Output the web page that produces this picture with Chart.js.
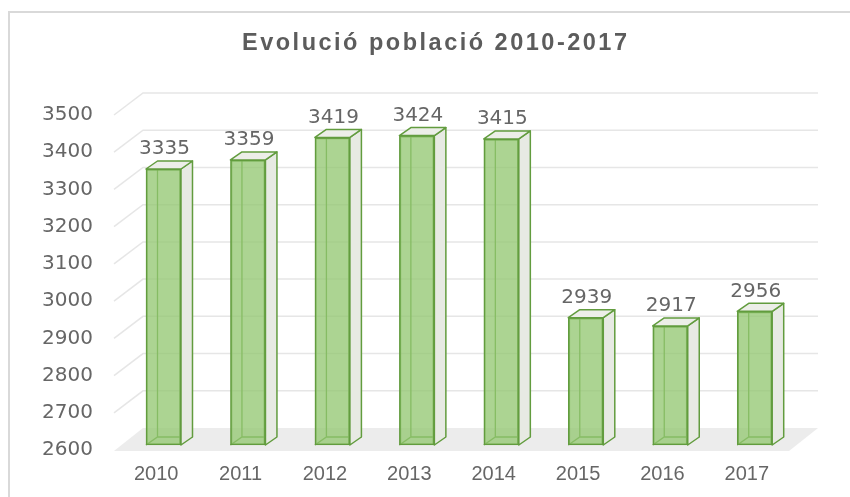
<!DOCTYPE html>
<html>
<head>
<meta charset="utf-8">
<title>Evolució població 2010-2017</title>
<script src="https://cdn.jsdelivr.net/npm/chart.js@4.4.1/dist/chart.umd.min.js"></script>
<style>
  html, body { margin: 0; padding: 0; background: #fff; overflow: hidden; }
  #wrap { position: relative; width: 850px; height: 497px; }
</style>
</head>
<body>
<div id="wrap"><canvas id="populationChart"></canvas></div>
<script>
// --- Data ---
const years = ['2010', '2011', '2012', '2013', '2014', '2015', '2016', '2017'];
const population = [3335, 3359, 3419, 3424, 3415, 2939, 2917, 2956];
const yTickValues = [2600, 2700, 2800, 2900, 3000, 3100, 3200, 3300, 3400, 3500];

// --- Look ---
const textColor = '#666666';
const titleColor = '#5c5c5c';
const gridColor = '#e6e6e6';
const floorColor = '#ececec';
const barFill = 'rgba(146, 198, 112, 0.76)';
const barEdge = '#629c3e';
const sideFill = '#e7eae3';
const topFill = '#eceee8';
const wideFont = '"DejaVu Sans", Verdana, sans-serif';
const plainFont = '"Liberation Sans", Arial, sans-serif';

// depth of the room (walls) and of each bar, in pixels
const WALL_DX = 29, WALL_DY = -22;
const BAR_DX = 11.5, BAR_DY = -8;

const box3d = {
    id: 'box3d',
    beforeDraw(chart) {
        const ctx = chart.ctx;
        const x = chart.scales.x, y = chart.scales.y;

        ctx.save();
        ctx.fillStyle = '#fff';
        ctx.fillRect(0, 0, chart.width, chart.height);
        ctx.strokeStyle = '#d9d9d9';
        ctx.lineWidth = 2;
        ctx.strokeRect(9, 12, chart.width + 50, chart.height + 50);

        // floor
        const yMin = y.getPixelForValue(yTickValues[0]);
        ctx.fillStyle = floorColor;
        ctx.beginPath();
        ctx.moveTo(x.left, yMin + 1);
        ctx.lineTo(x.left + WALL_DX, yMin + WALL_DY);
        ctx.lineTo(x.right + WALL_DX, yMin + WALL_DY);
        ctx.lineTo(x.right, yMin + 1);
        ctx.closePath();
        ctx.fill();

        // side wall + back wall grid lines
        ctx.strokeStyle = gridColor;
        ctx.lineWidth = 1.5;
        yTickValues.slice(1).forEach(v => {
            const py = y.getPixelForValue(v);
            ctx.beginPath();
            ctx.moveTo(x.left, py);
            ctx.lineTo(x.left + WALL_DX, py + WALL_DY);
            ctx.lineTo(x.right + WALL_DX, py + WALL_DY);
            ctx.stroke();
        });
        ctx.restore();

        // the title (z 0 layer) is drawn letter-spaced
        ctx.letterSpacing = '2.5px';
    },
    beforeDatasetsDraw(chart) {
        const ctx = chart.ctx;
        ctx.letterSpacing = '0px';
        // hidden back edges, seen through the front face
        ctx.save();
        ctx.strokeStyle = barEdge;
        ctx.lineWidth = 1.3;
        chart.getDatasetMeta(0).data.forEach(bar => {
            const { x, y, base, width } = bar.getProps(['x', 'y', 'base', 'width'], true);
            const l = x - width / 2, r = x + width / 2;
            ctx.beginPath();
            ctx.moveTo(l, base);
            ctx.lineTo(l + BAR_DX, base + BAR_DY);
            ctx.lineTo(r + BAR_DX, base + BAR_DY);
            ctx.moveTo(l + BAR_DX, base + BAR_DY);
            ctx.lineTo(l + BAR_DX, y + BAR_DY);
            ctx.stroke();
        });
        ctx.restore();
    },
    afterDatasetsDraw(chart) {
        const ctx = chart.ctx;
        ctx.save();
        ctx.strokeStyle = barEdge;
        ctx.lineWidth = 1.5;
        ctx.lineJoin = 'round';
        chart.getDatasetMeta(0).data.forEach((bar, i) => {
            const { x, y, base, width } = bar.getProps(['x', 'y', 'base', 'width'], true);
            const l = x - width / 2, r = x + width / 2;
            // right side
            ctx.fillStyle = sideFill;
            ctx.beginPath();
            ctx.moveTo(r, y);
            ctx.lineTo(r + BAR_DX, y + BAR_DY);
            ctx.lineTo(r + BAR_DX, base + BAR_DY);
            ctx.lineTo(r, base);
            ctx.closePath();
            ctx.fill();
            ctx.stroke();
            // top
            ctx.fillStyle = topFill;
            ctx.beginPath();
            ctx.moveTo(l, y);
            ctx.lineTo(l + BAR_DX, y + BAR_DY);
            ctx.lineTo(r + BAR_DX, y + BAR_DY);
            ctx.lineTo(r, y);
            ctx.closePath();
            ctx.fill();
            ctx.stroke();
            // value label
            ctx.fillStyle = textColor;
            ctx.font = '20px ' + wideFont;
            ctx.textAlign = 'center';
            ctx.textBaseline = 'alphabetic';
            ctx.fillText(String(population[i]), x + 1, y + BAR_DY - 6.5);
        });
        ctx.restore();
        ctx.letterSpacing = '0px';
    }
};

const ctx = document.getElementById('populationChart');

new Chart(ctx, {
    type: 'bar',
    data: {
        labels: years,
        datasets: [{
            label: 'Població',
            data: population.map((v, i) => ({ x: i, y: v })),
            xAxisID: 'xBars',
            yAxisID: 'yBars',
            base: yTickValues[0],
            backgroundColor: barFill,
            borderColor: barEdge,
            borderWidth: 1.5,
            borderSkipped: false,
            barThickness: 35
        }]
    },
    options: {
        responsive: true,
        maintainAspectRatio: false,
        animation: false,
        events: [],
        layout: { padding: { left: 21.5, right: 0, top: 0, bottom: 0 } },
        plugins: {
            legend: { display: false },
            tooltip: { enabled: false },
            title: {
                display: true,
                text: 'Evolució població 2010-2017',
                color: titleColor,
                font: { family: plainFont, size: 23.5, weight: 'bold' },
                padding: { top: 29.8, bottom: 57 }
            }
        },
        scales: {
            x: {
                type: 'category',
                labels: years,
                offset: true,
                grid: { display: false, drawTicks: false },
                border: { display: false },
                ticks: { z: 1, color: textColor, font: { family: plainFont, size: 20 }, padding: 12, maxRotation: 0 },
                afterFit(scale) { scale.height = 47; }
            },
            y: {
                type: 'linear',
                min: yTickValues[0],
                max: yTickValues[yTickValues.length - 1],
                grid: { display: false, drawTicks: false },
                border: { display: false },
                ticks: {
                    z: 1, color: textColor, font: { family: wideFont, size: 20 }, padding: 21,
                    callback: v => String(v)
                },
                afterBuildTicks(scale) { scale.ticks = yTickValues.map(v => ({ value: v })); },
                afterFit(scale) { scale.width = 92.5; }
            },
            // front plane of the bars sits a little behind the axis plane
            xBars: { type: 'linear', display: false, offset: false, min: -0.586, max: 7.406 },
            yBars: {
                type: 'linear', position: 'right', beginAtZero: false,
                min: 2586.7, max: 3478.8,
                grid: { display: false, drawTicks: false },
                border: { display: false },
                ticks: { display: false },
                afterFit(scale) { scale.width = 61; }
            }
        }
    },
    plugins: [box3d]
});
</script>
</body>
</html>
